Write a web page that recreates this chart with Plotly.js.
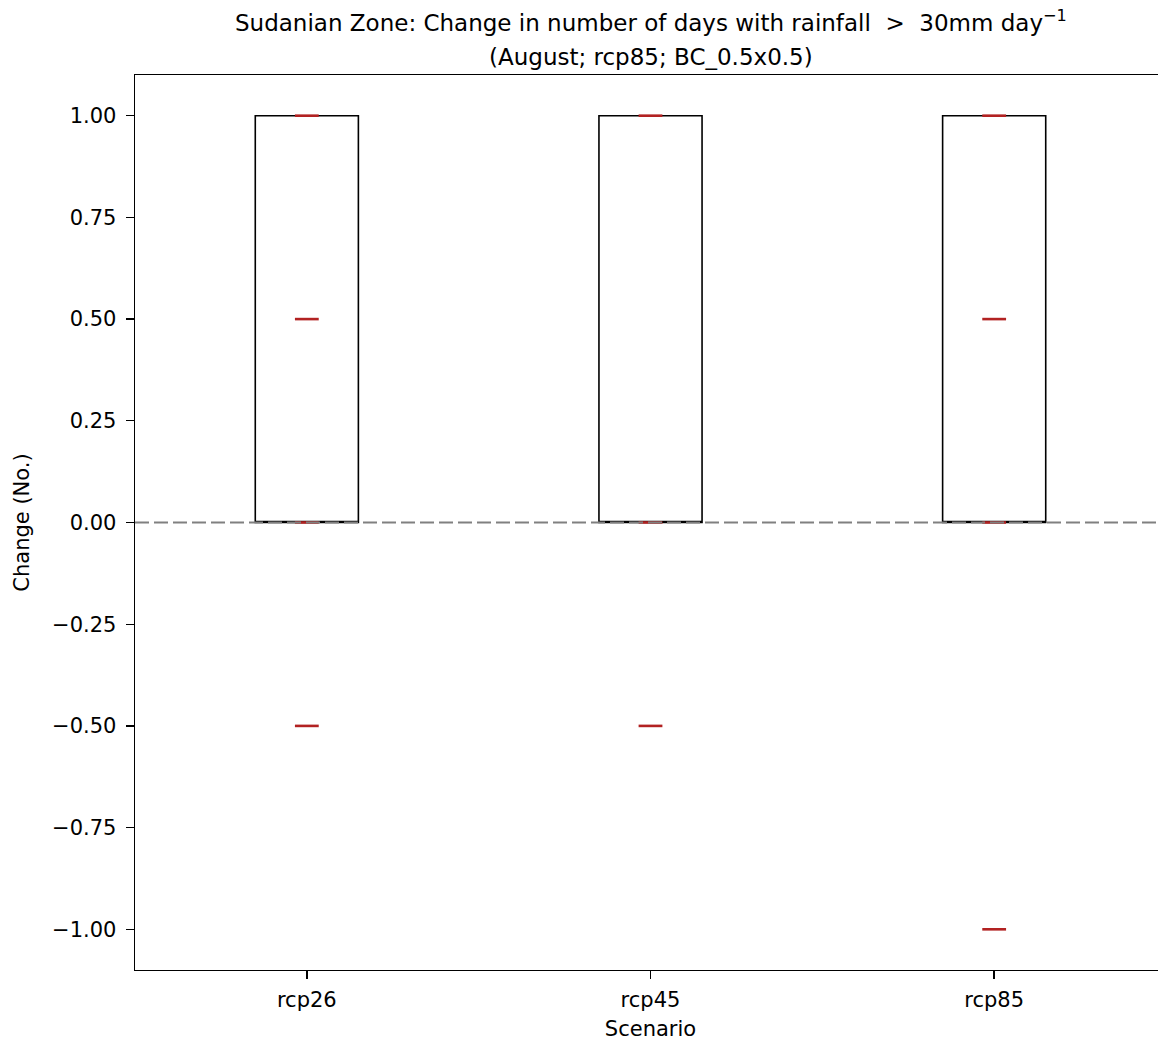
<!DOCTYPE html>
<html>
<head>
<meta charset="utf-8">
<script src="https://cdn.plot.ly/plotly-3.0.1.min.js"></script>
<style>
html, body { margin: 0; padding: 0; overflow: hidden; background: #fff; }
#chart { width: 1176px; height: 1043px; }
</style>
</head>
<body>
<div id="chart"></div>
<script>
// Data
const scenarios = ['rcp26', 'rcp45', 'rcp85'];
const scenarioPos = [1, 2, 3];
const boxQ1 = [0, 0, 0];
const boxMedian = [0, 0, 0];
const boxQ3 = [1, 1, 1];
const boxLower = [0, 0, 0];
const boxUpper = [1, 1, 1];
const rcp26Values = [1, 0.5, 0, -0.5];
const rcp45Values = [1, 0, -0.5];
const rcp85Values = [1, 0.5, 0, -1];
const yTicks = [-1, -0.75, -0.5, -0.25, 0, 0.25, 0.5, 0.75, 1];
const titleLine1 = 'Sudanian Zone: Change in number of days with rainfall  >  30mm day<sup>−1</sup>';
const titleLine2 = '(August; rcp85; BC_0.5x0.5)';

const FS = 21;
const font = { family: 'DejaVu Sans, sans-serif', size: FS, color: '#000' };
const titleFont = { family: 'DejaVu Sans, sans-serif', size: 23, color: '#000' };

const boxTrace = {
  type: 'box',
  x: scenarioPos,
  q1: boxQ1,
  median: boxMedian,
  q3: boxQ3,
  lowerfence: boxLower,
  upperfence: boxUpper,
  width: 0.3,
  whiskerwidth: 0.5,
  fillcolor: 'rgba(0,0,0,0)',
  line: { color: '#000', width: 1.6 },
  boxpoints: false,
  hoverinfo: 'skip',
  showlegend: false
};

const allValues = [rcp26Values, rcp45Values, rcp85Values];
const pts = allValues.map((vals, i) => ({
  type: 'scatter',
  mode: 'markers',
  x: vals.map(() => scenarioPos[i]),
  y: vals,
  marker: { symbol: 'line-ew', size: 17, line: { color: '#b22222', width: 2.6 } },
  showlegend: false,
  hoverinfo: 'y'
}));

const layout = {
  width: 1176,
  height: 1043,
  margin: { l: 135, r: 10, t: 75, b: 73 },
  paper_bgcolor: '#fff',
  plot_bgcolor: '#fff',
  font: font,
  showlegend: false,
  annotations: [
    { text: titleLine1, xref: 'paper', yref: 'paper', x: 0.5, y: 1, xanchor: 'center', yanchor: 'middle', yshift: 54, showarrow: false, font: titleFont },
    { text: titleLine2, xref: 'paper', yref: 'paper', x: 0.5, y: 1, xanchor: 'center', yanchor: 'middle', yshift: 18, showarrow: false, font: titleFont }
  ],
  xaxis: {
    range: [0.5, 3.5],
    tickvals: scenarioPos,
    ticktext: scenarios,
    showgrid: false,
    zeroline: false,
    showline: true,
    linecolor: '#000',
    linewidth: 1.4,
    mirror: true,
    ticks: 'outside',
    ticklen: 8,
    tickwidth: 1.4,
    tickcolor: '#000',
    ticklabelstandoff: 2,
    title: { text: 'Scenario', font: font, standoff: 10 }
  },
  yaxis: {
    range: [-1.1, 1.1],
    tickvals: yTicks,
    tickformat: '.2f',
    showgrid: false,
    zeroline: false,
    showline: true,
    linecolor: '#000',
    linewidth: 1.4,
    mirror: false,
    ticks: 'outside',
    ticklen: 8,
    tickwidth: 1.4,
    tickcolor: '#000',
    ticklabelstandoff: 5,
    title: { text: 'Change (No.)', font: font, standoff: 16 }
  },
  shapes: [{
    type: 'line', xref: 'paper', yref: 'y',
    x0: 0, x1: 1, y0: 0, y1: 0,
    line: { color: '#808080', width: 2, dash: '14px,5px' },
    layer: 'above'
  }]
};

Plotly.newPlot('chart', [boxTrace].concat(pts), layout, { displayModeBar: false, staticPlot: true });
</script>
</body>
</html>
